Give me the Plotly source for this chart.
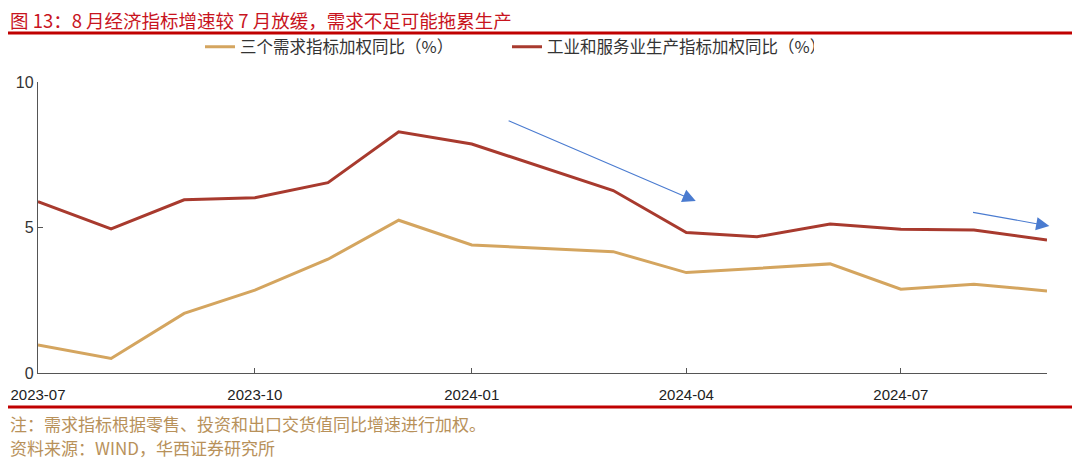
import plotly.graph_objects as go

# month-start dates (2024-02 has no value)
months = ['2023-07-01', '2023-08-01', '2023-09-01', '2023-10-01', '2023-11-01', '2023-12-01',
          '2024-01-01', '2024-03-01', '2024-04-01', '2024-05-01', '2024-06-01', '2024-07-01',
          '2024-08-01', '2024-09-01']
demand = [0.96, 0.50, 2.05, 2.85, 3.91, 5.25, 4.40, 4.17, 3.45, 3.60, 3.75, 2.88, 3.05, 2.82]
production = [5.89, 4.95, 5.95, 6.02, 6.54, 8.29, 7.87, 6.27, 4.83, 4.68, 5.12, 4.94, 4.91, 4.57]

x_ticks = ['2023-07-01', '2023-10-01', '2024-01-01', '2024-04-01', '2024-07-01']
x_labels = ['2023-07', '2023-10', '2024-01', '2024-04', '2024-07']
y_ticks = [0, 5, 10]

demand_name = '三个需求指标加权同比（%）'
production_name = '工业和服务业生产指标加权同比（%）'
title = '图 13：8 月经济指标增速较 7 月放缓，需求不足可能拖累生产'
note = '注：需求指标根据零售、投资和出口交货值同比增速进行加权。'
source = '资料来源：WIND，华西证券研究所'

# trend arrows (tail -> head), in data coordinates
arrows = [
    (('2024-01-16', 8.69), ('2024-04-05', 5.91)),
    (('2024-07-31', 5.53), ('2024-09-02', 5.05)),
]

# the page body has an 8px margin, so the figure is drawn at (8, 8)
OFF = 8
W, H = 1080 - OFF, 461 - OFF
L, R, T, B = 38 - OFF, 33, 82 - OFF, 88
pw, ph = W - L - R, H - T - B

def px_x(x):
    # x in screenshot pixels -> paper coordinate
    return (x - OFF - L) / pw

def px_y(y):
    return (H - B - (y - OFF)) / ph

cjk = 'Noto Sans CJK SC'
gold = '#D4A55F'
red = '#A83A2E'
blue = '#4A7BD0'

fig = go.Figure()
fig.add_trace(go.Scatter(x=months, y=demand, mode='lines', name=demand_name,
                         line=dict(color=gold, width=3)))
fig.add_trace(go.Scatter(x=months, y=production, mode='lines', name=production_name,
                         line=dict(color=red, width=3)))

for (ax, ay), (x, y) in arrows:
    fig.add_annotation(x=x, y=y, ax=ax, ay=ay, xref='x', yref='y', axref='x', ayref='y',
                       text='', showarrow=True, arrowhead=2, arrowsize=2.4,
                       arrowwidth=1.1, arrowcolor=blue)

# title and rules
fig.add_annotation(x=px_x(OFF), y=px_y(20), xref='paper', yref='paper', xanchor='left',
                   yanchor='middle', text=title, showarrow=False,
                   font=dict(family=cjk, size=18.5, color='#C8141E'))
fig.add_shape(type='line', xref='paper', yref='paper', x0=px_x(OFF), x1=px_x(1080),
              y0=px_y(33), y1=px_y(33), line=dict(color='#C00000', width=3))
fig.add_shape(type='line', xref='paper', yref='paper', x0=px_x(OFF), x1=px_x(1080),
              y0=px_y(407), y1=px_y(407), line=dict(color='#C00000', width=3))
fig.add_annotation(x=px_x(OFF), y=px_y(423), xref='paper', yref='paper', xanchor='left',
                   yanchor='middle', text=note, showarrow=False,
                   font=dict(family=cjk, size=17, color='#B8915A'))
fig.add_annotation(x=px_x(OFF), y=px_y(447), xref='paper', yref='paper', xanchor='left',
                   yanchor='middle', text=source, showarrow=False,
                   font=dict(family=cjk, size=17, color='#B8915A'))

fig.update_layout(
    width=W, height=H,
    margin=dict(l=L, r=R, t=T, b=B),
    paper_bgcolor='white', plot_bgcolor='white',
    showlegend=True,
    legend=dict(orientation='h', x=px_x(200), y=px_y(47), xanchor='left', yanchor='middle',
                font=dict(family=cjk, size=16.5, color='#333333'),
                bgcolor='rgba(0,0,0,0)', entrywidth=262, entrywidthmode='pixels'),
    xaxis=dict(type='date', range=['2023-07-01', '2024-09-01'], tickvals=x_ticks,
               ticktext=x_labels, ticks='inside', ticklen=5, tickcolor='#555555',
               showline=True, linecolor='#555555', linewidth=1.3, showgrid=False,
               zeroline=False, automargin=False, ticklabelstandoff=8,
               tickfont=dict(family='Liberation Sans, Arial', size=15, color='#222222')),
    yaxis=dict(range=[0, 10], tickvals=y_ticks, ticks='inside', ticklen=5,
               tickcolor='#555555', showline=True, linecolor='#555555', linewidth=1.3,
               showgrid=False, zeroline=False, automargin=False,
               tickfont=dict(family='Liberation Sans, Arial', size=16, color='#333333')),
)

fig.write_html('out.html')
